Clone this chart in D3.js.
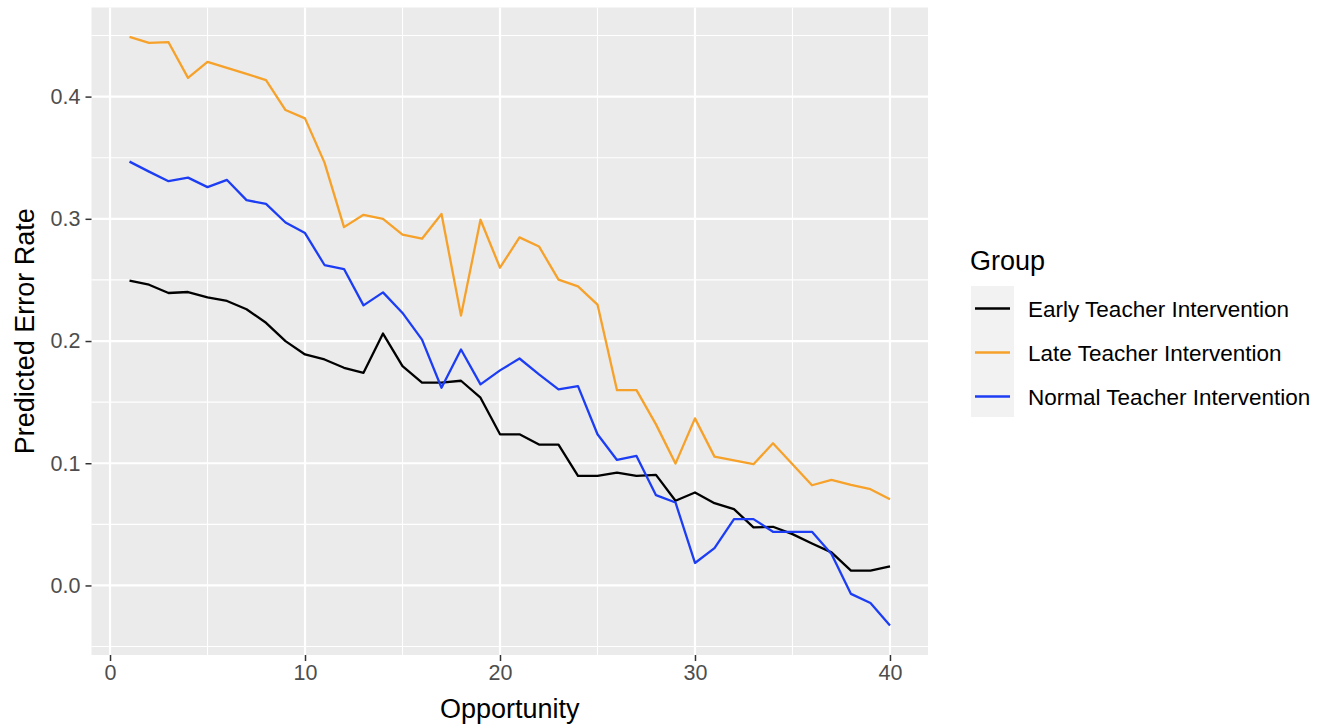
<!DOCTYPE html>
<html><head><meta charset="utf-8">
<script src="https://cdn.jsdelivr.net/npm/d3@7"></script>
<style>body{margin:0;background:#fff;} text{font-family:"Liberation Sans",Arial,sans-serif;}</style>
</head><body><svg id="c" width="1317" height="724"></svg>
<script>
const opportunity = d3.range(1, 41);
const groups = ["Early Teacher Intervention", "Late Teacher Intervention", "Normal Teacher Intervention"];
const early = [0.2494,0.2461,0.2393,0.2401,0.2358,0.2328,0.2260,0.2149,0.1999,0.1890,0.1849,0.1781,0.1740,0.2061,0.1794,0.1659,0.1659,0.1675,0.1536,0.1237,0.1237,0.1153,0.1153,0.0896,0.0896,0.0924,0.0896,0.0905,0.0693,0.0761,0.0673,0.0624,0.0475,0.0480,0.0420,0.0344,0.0271,0.0121,0.0121,0.0157];
const late = [0.4488,0.4439,0.4445,0.4153,0.4284,0.4235,0.4186,0.4135,0.3890,0.3822,0.3460,0.2932,0.3033,0.3000,0.2870,0.2837,0.3040,0.2208,0.2992,0.2600,0.2848,0.2774,0.2502,0.2447,0.2298,0.1598,0.1598,0.1318,0.0997,0.1367,0.1054,0.1024,0.0992,0.1163,0.0992,0.0820,0.0864,0.0823,0.0788,0.0706];
const normal = [0.3468,0.3386,0.3308,0.3337,0.3259,0.3318,0.3153,0.3122,0.2970,0.2883,0.2622,0.2589,0.2292,0.2398,0.2230,0.2012,0.1618,0.1931,0.1645,0.1760,0.1857,0.1727,0.1604,0.1631,0.1237,0.1027,0.1060,0.0739,0.0679,0.0184,0.0306,0.0543,0.0543,0.0439,0.0439,0.0439,0.0257,-0.0069,-0.0143,-0.0328];
const xTicks = [0, 10, 20, 30, 40];
const xMinor = [5, 15, 25, 35];
const yTicks = [0.0, 0.1, 0.2, 0.3, 0.4];
const yMinor = [-0.05, 0.05, 0.15, 0.25, 0.35, 0.45];
const colors = ["#000000", "#F6A12A", "#1C3DF4"];
const seriesValues = [early, late, normal];

const svg = d3.select("#c");
const L = 91.5, R = 928, T = 7.5, B = 655;
const x = d3.scaleLinear().domain([-0.95, 41.95]).range([L, R]);
const y = d3.scaleLinear().domain([-0.0569, 0.4729]).range([B, T]);

svg.append("rect").attr("x", L).attr("y", T).attr("width", R - L).attr("height", B - T).attr("fill", "#EBEBEB");
const g = svg.append("g");
g.selectAll(".ymin").data(yMinor).join("line").attr("x1", L).attr("x2", R)
  .attr("y1", d => y(d)).attr("y2", d => y(d)).attr("stroke", "#fff").attr("stroke-width", 1.1);
g.selectAll(".xmin").data(xMinor).join("line").attr("y1", T).attr("y2", B)
  .attr("x1", d => x(d)).attr("x2", d => x(d)).attr("stroke", "#fff").attr("stroke-width", 1.1);
g.selectAll(".ymaj").data(yTicks).join("line").attr("x1", L).attr("x2", R)
  .attr("y1", d => y(d)).attr("y2", d => y(d)).attr("stroke", "#fff").attr("stroke-width", 2.2);
g.selectAll(".xmaj").data(xTicks).join("line").attr("y1", T).attr("y2", B)
  .attr("x1", d => x(d)).attr("x2", d => x(d)).attr("stroke", "#fff").attr("stroke-width", 2.2);

const line = d3.line().x((d, i) => x(opportunity[i])).y(d => y(d));
seriesValues.forEach((vals, k) => {
  svg.append("path").datum(vals).attr("d", line).attr("fill", "none")
    .attr("stroke", colors[k]).attr("stroke-width", 2.3).attr("stroke-linejoin", "round");
});

// axes
const xAxis = svg.append("g").attr("transform", `translate(0,${B})`)
  .call(d3.axisBottom(x).tickValues(xTicks).tickSize(6).tickPadding(4).tickFormat(d3.format("d")));
const yAxis = svg.append("g").attr("transform", `translate(${L},0)`)
  .call(d3.axisLeft(y).tickValues(yTicks).tickSize(6).tickPadding(5).tickFormat(d3.format(".1f")));
[xAxis, yAxis].forEach(a => {
  a.select(".domain").remove();
  a.selectAll(".tick line").attr("stroke", "#333").attr("stroke-width", 1.5);
  a.selectAll(".tick text").attr("fill", "#4D4D4D").style("font-size", "21.5px").style("font-family", "Liberation Sans, Arial, sans-serif");
});

svg.append("text").attr("x", (L + R) / 2).attr("y", 718).attr("text-anchor", "middle")
  .style("font-size", "27px").attr("fill", "#000").text("Opportunity");
svg.append("text").attr("transform", `translate(34,${(T + B) / 2}) rotate(-90)`).attr("text-anchor", "middle")
  .style("font-size", "27px").attr("fill", "#000").text("Predicted Error Rate");

// legend
const lg = svg.append("g");
lg.append("text").attr("x", 970).attr("y", 270).style("font-size", "27px").attr("fill", "#000").text("Group");
lg.append("rect").attr("x", 971).attr("y", 286).attr("width", 43).attr("height", 131).attr("fill", "#F2F2F2");
groups.forEach((name, k) => {
  const cy = 308.5 + k * 44;
  lg.append("line").attr("x1", 975).attr("x2", 1010).attr("y1", cy).attr("y2", cy)
    .attr("stroke", colors[k]).attr("stroke-width", 2.3);
  lg.append("text").attr("x", 1028).attr("y", cy + 8).style("font-size", "22.5px").attr("fill", "#000").text(name);
});
</script></body></html>
